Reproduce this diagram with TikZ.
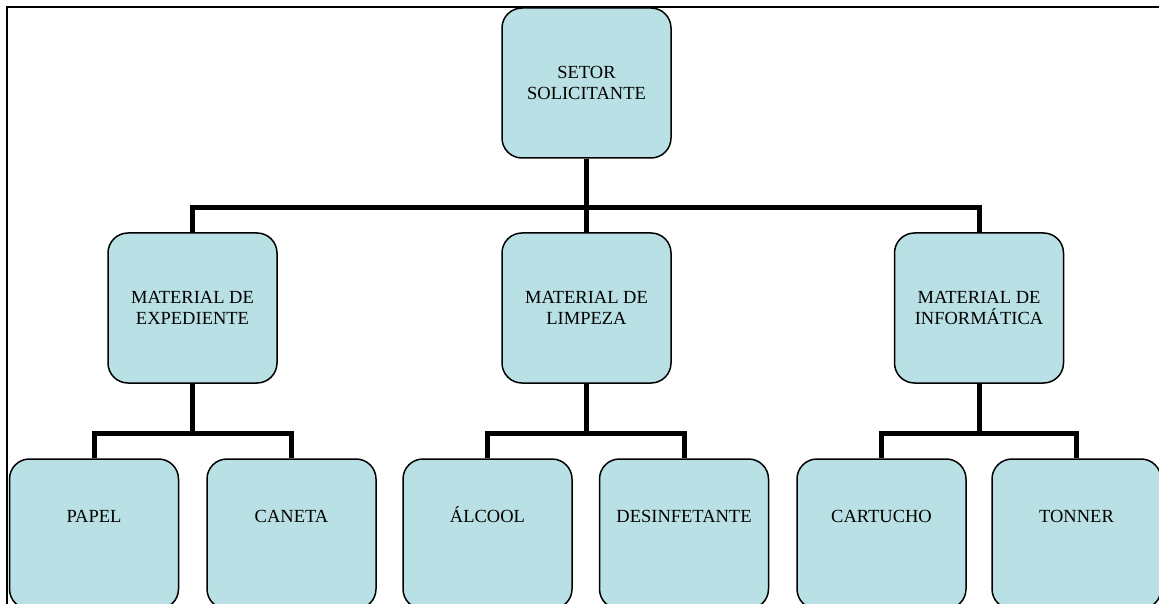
\documentclass[tikz,border=0pt]{standalone}
\usepackage{fontspec}
\setmainfont{Liberation Serif}
\usetikzlibrary{backgrounds}
\definecolor{boxfill}{RGB}{185,224,228}
\begin{document}
\begin{tikzpicture}[x=1pt,y=-1pt,
  orgbox/.style={draw=black,line width=1.5pt,fill=boxfill,rounded corners=20pt,
    minimum width=169pt,minimum height=150pt,inner sep=0pt,align=center,
    font=\fontsize{18.5}{21.7}\selectfont},
  leafbox/.style={orgbox,text height=13pt,text depth=37pt},
  conn/.style={draw=black,line width=5pt}]
\useasboundingbox (0,0) rectangle (1159,604);
\clip (0,0) rectangle (1159,604);
% coordinates of buses
\coordinate (bus0) at (586.5,207.5);
\coordinate (busA) at (192.5,433);
\coordinate (busB) at (586.5,433);
\coordinate (busC) at (979,433);
% nodes
\path
  (586.5,83) node[orgbox] (top) {SETOR\\SOLICITANTE}
  (192.5,308) node[orgbox] (exp) {MATERIAL DE\\EXPEDIENTE}
  (586.5,308) node[orgbox] (limp) {MATERIAL DE\\LIMPEZA}
  (979,308) node[orgbox] (info) {MATERIAL DE\\INFORMÁTICA}
  (94,534) node[leafbox] (papel) {PAPEL}
  (291.5,534) node[leafbox] (caneta) {CANETA}
  (487.5,534) node[leafbox] (alcool) {ÁLCOOL}
  (684,534) node[leafbox] (desinf) {DESINFETANTE}
  (881.5,534) node[leafbox] (cart) {CARTUCHO}
  (1076.5,534) node[leafbox] (tonner) {TONNER};
\begin{pgfonlayer}{background}
\draw[line width=2pt] (7,7) rectangle (1180,640);
\draw[conn] (top.south) -- (limp.north);
\draw[conn] (exp.north) |- (bus0) -| (info.north);
\draw[conn] (exp.south) -- (busA);
\draw[conn] (papel.north) |- (busA) -| (caneta.north);
\draw[conn] (limp.south) -- (busB);
\draw[conn] (alcool.north) |- (busB) -| (desinf.north);
\draw[conn] (info.south) -- (busC);
\draw[conn] (cart.north) |- (busC) -| (tonner.north);
\end{pgfonlayer}
\end{tikzpicture}
\end{document}
